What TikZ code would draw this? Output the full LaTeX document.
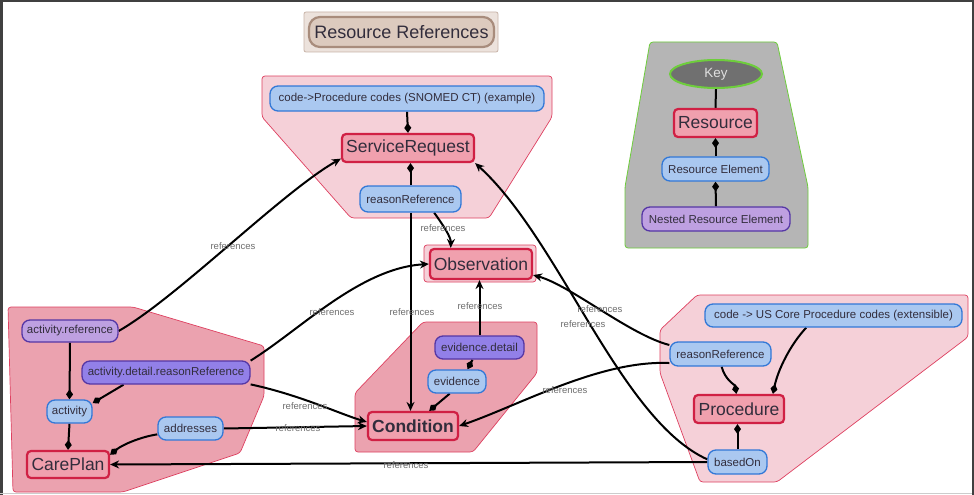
\documentclass[tikz,border=0pt]{standalone}
\usepackage{fontspec}
\setmainfont{Liberation Sans}
\usetikzlibrary{arrows.meta,shapes.geometric}
\definecolor{resfill}{RGB}{240,160,174}
\definecolor{resdraw}{RGB}{208,32,68}
\definecolor{elfill}{RGB}{170,200,240}
\definecolor{eldraw}{RGB}{50,120,215}
\definecolor{nestfill}{RGB}{146,128,232}
\definecolor{nestdraw}{RGB}{85,55,165}
\definecolor{lnestfill}{RGB}{190,160,225}
\definecolor{grplight}{RGB}{245,208,216}
\definecolor{grpdark}{RGB}{235,162,175}
\definecolor{grpdraw}{RGB}{222,64,96}
\definecolor{keyfill}{RGB}{181,181,181}
\definecolor{keydraw}{RGB}{110,205,60}
\definecolor{keyell}{RGB}{112,112,112}
\definecolor{txt}{RGB}{50,45,60}
\definecolor{reftxt}{RGB}{110,110,110}
\definecolor{ttlout}{RGB}{236,226,220}
\definecolor{ttloutdraw}{RGB}{200,180,168}
\definecolor{ttlin}{RGB}{220,202,190}
\definecolor{ttlindraw}{RGB}{168,140,124}
\definecolor{framec}{RGB}{64,64,64}
\pgfdeclarelayer{bg}
\pgfdeclarelayer{edges}
\pgfsetlayers{bg,edges,main}
\tikzset{
  box/.style 2 args={minimum width=#1pt,minimum height=#2pt},
  res/.style={draw=resdraw, fill=resfill, line width=2.2pt, rounded corners=4pt, inner sep=0pt, text=txt, font=\fontsize{17.5}{20}\selectfont},
  el/.style={draw=eldraw, fill=elfill, line width=1.3pt, rounded corners=8pt, inner sep=0pt, text=txt, font=\fontsize{11.5}{13}\selectfont},
  nest/.style={el, draw=nestdraw, fill=nestfill},
  lnest/.style={el, draw=nestdraw, fill=lnestfill},
  grp/.style={draw=grpdraw, line width=0.7pt, rounded corners=3pt},
  refl/.style={draw=black, line width=2pt, -{Stealth[length=9pt,width=8pt]}},
  comp/.style={draw=black, line width=2pt, -{Diamond[length=10pt,width=7pt]}},
  plainl/.style={draw=black, line width=2pt},
  lbl/.style={text=reftxt, font=\fontsize{9.5}{11}\selectfont, inner sep=0pt}
}
\begin{document}
\begin{tikzpicture}[x=1pt,y=-1pt]
\useasboundingbox (0,0) rectangle (974,495);
\begin{pgfonlayer}{bg}
\fill[white] (0,0) rectangle (974,495);
\fill[framec] (0,0) rectangle (974,2.5);
\fill[framec] (0,0) rectangle (2.5,495);
\fill[framec] (971.5,0) rectangle (974,495);
\draw[black!20, line width=1pt] (0,493.5) -- (971.5,493.5);
% groups
\draw[grp, fill=grplight] (262,76) -- (552,76) -- (552,117) -- (489,218) -- (351,218) -- (262,117) -- cycle;
\draw[grp, fill=grplight] (424,245) rectangle (536,282);
\draw[grp, fill=grpdark] (423,322) -- (537,322) -- (537,373) -- (473,452) -- (355,452) -- (355,393) -- cycle;
\draw[grp, fill=grpdark] (8,307) -- (133,307) -- (264,346) -- (264,396) -- (240,453) -- (123,492) -- (13,492) -- cycle;
\draw[grp, fill=grplight] (697,295) -- (968,295) -- (968,337) -- (777,482) -- (700,482) -- (660,373) -- (660,330) -- cycle;
\draw[draw=keydraw, line width=0.8pt, fill=keyfill, rounded corners=3pt] (650,42) -- (777,42) -- (808,187) -- (808,248) -- (625,248) -- (625,187) -- cycle;
\end{pgfonlayer}
% title
\node[draw=ttloutdraw, fill=ttlout, rounded corners=2pt, line width=0.8pt, box={194}{40}] (ttlo) at (401,32) {};
\node[draw=ttlindraw, fill=ttlin, rounded corners=11pt, line width=2.2pt, box={185}{30}, inner sep=0pt, text=txt, font=\fontsize{18}{21}\selectfont] (ttl) at (401.5,32) {Resource References};
% key
\node[ellipse, draw=keydraw, line width=2pt, fill=keyell, box={92}{28}, inner sep=0pt, text=white!88!black, font=\fontsize{13.4}{15}\selectfont] (key) at (716,74) {Key};
\node[res, box={83}{28}] (kres) at (715.5,123) {Resource};
\node[el, box={107}{24}] (kel) at (715.5,169) {Resource Element};
\node[lnest, box={148}{24}] (knest) at (716,219) {Nested Resource Element};
% service request group
\node[el, box={274}{25}] (sncode) at (407,98.5) {code->Procedure codes (SNOMED CT) (example)};
\node[res, box={132}{28}] (sr) at (408,148) {ServiceRequest};
\node[el, box={101}{26}] (srr) at (410.5,199) {reasonReference};
% observation
\node[res, box={102}{30}] (obs) at (481,264) {Observation};
% condition group
\node[nest, box={89}{23}] (ed) at (479.5,347.5) {evidence.detail};
\node[el, box={58}{23}] (ev) at (457,381.5) {evidence};
\node[res, box={90}{28}, font=\fontsize{17.5}{20}\selectfont\bfseries] (cond) at (413,426) {Condition};
% careplan group
\node[lnest, box={96}{22}] (ar) at (70,331) {activity.reference};
\node[nest, box={168}{23}] (adr) at (166,372.5) {activity.detail.reasonReference};
\node[el, box={45}{23}] (act) at (69.5,411.5) {activity};
\node[el, box={65}{23}] (addr) at (190.5,428.5) {addresses};
\node[res, box={82}{27}] (cp) at (68,464.5) {CarePlan};
% procedure group
\node[el, box={257}{23}] (uscode) at (833.5,315.5) {code -> US Core Procedure codes (extensible)};
\node[el, box={101}{24}] (prr) at (720.5,354) {reasonReference};
\node[res, box={90}{28}] (proc) at (739,409) {Procedure};
\node[el, box={59}{24}] (bo) at (737.5,462) {basedOn};
% labels
\node[lbl] (l1) at (233,246) {references};
\node[lbl] (l2) at (443,228) {references};
\node[lbl] (l3) at (332,312) {references};
\node[lbl] (l4) at (412,312) {references};
\node[lbl] (l5) at (480,306) {references};
\node[lbl] (l6) at (600,309) {references};
\node[lbl] (l7) at (583,324) {references};
\node[lbl] (l8) at (565,390) {references};
\node[lbl] (l9) at (305,406) {references};
\node[lbl] (l10) at (298,428) {references};
\node[lbl] (l11) at (406,465) {references};
\begin{pgfonlayer}{edges}
% key
\draw[plainl] (key.south) -- (kres.north);
\draw[comp] (kel.north) -- (kres.south);
\draw[comp] (knest.north) -- (kel.south);
% service request
\draw[comp] (sncode.south) -- (sr.north);
\draw[comp] (srr.north) -- (sr.south -| srr.north);
\draw[refl] (srr.south) -- (cond.north -| srr.south);
\draw[refl] (srr.-30) .. controls (443,225) and (451,237) .. (obs.152);
% careplan
\draw[refl] (ar.east) .. controls (178,297) and (282,192) .. (sr.189);
\draw[refl] (adr.8) .. controls (300,330) and (360,268) .. (obs.west);
\draw[refl] (adr.-8) .. controls (300,395) and (340,414) .. (cond.175);
\draw[refl] (addr.east) -- (cond.west);
\draw[comp] (ar.south) -- (act.north);
\draw[comp] (adr.-164) -- (act.20);
\draw[comp] (act.south) -- (cp.north);
\draw[comp] (addr.190) .. controls (140,437) and (122,445) .. (cp.13);
% condition
\draw[refl] (ed.north) -- (obs.south -| ed.north);
\draw[comp] (ed.-120) -- (ev.49);
\draw[comp] (ev.-121) -- (cond.43);
% procedure
\draw[refl] (bo.west) -- (cp.east);
\draw[refl] (bo.175) .. controls (620,420) and (560,240) .. (sr.south east);
\draw[refl] (prr.170) .. controls (630,335) and (570,285) .. (obs.-12);
\draw[refl] (prr.190) .. controls (600,360) and (520,405) .. (cond.east);
\draw[comp] (prr.-85) .. controls (725,380) and (735,385) .. (proc.100);
\draw[comp] (uscode.-156) .. controls (790,345) and (778,370) .. (proc.24);
\draw[comp] (bo.north) -- (proc.south -| bo.north);
\end{pgfonlayer}
\end{tikzpicture}
\end{document}
